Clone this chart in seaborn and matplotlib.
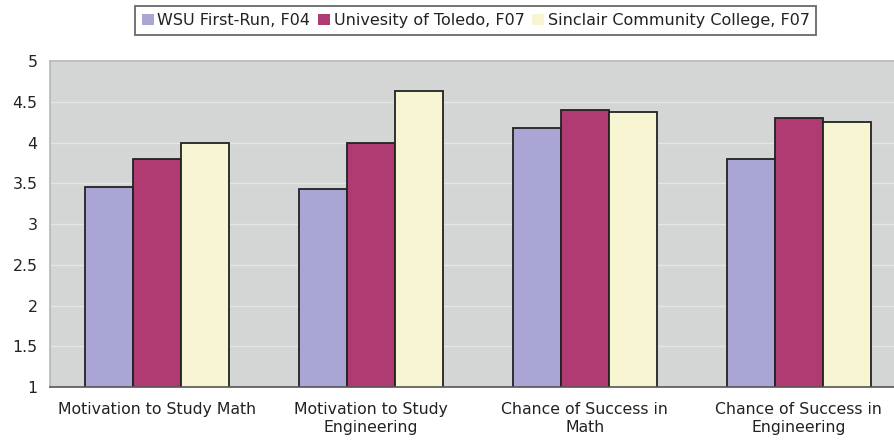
import matplotlib
matplotlib.use("Agg")
import matplotlib.pyplot as plt
import seaborn as sns
import pandas as pd

categories = ["Motivation to Study Math", "Motivation to Study\nEngineering",
              "Chance of Success in\nMath", "Chance of Success in\nEngineering"]
series = ["WSU First-Run, F04", "Univesity of Toledo, F07", "Sinclair Community College, F07"]
wsu = [3.46, 3.43, 4.18, 3.80]
toledo = [3.80, 4.00, 4.40, 4.30]
sinclair = [4.00, 4.63, 4.38, 4.25]
colors = ["#A9A6D6", "#B03A72", "#F8F5D2"]

rows = []
for name, vals in zip(series, [wsu, toledo, sinclair]):
    for c, v in zip(categories, vals):
        rows.append({"cat": c, "series": name, "val": v})
df = pd.DataFrame(rows)

sns.set_theme(style="white")
plt.rcParams['font.family'] = ['DejaVu Sans']
fig = plt.figure(figsize=(8.94, 4.43), dpi=100)
ax = fig.add_axes([0.056, 0.126, 0.95, 0.736])
ax.set_facecolor("#D4D6D6")

sns.barplot(data=df, x="cat", y="val", hue="series", palette=colors, ax=ax,
            width=0.675, edgecolor="#222222", linewidth=1.3, gap=0,
            saturation=1, legend=True)

ax.set_ylim(1, 5)
ax.set_xlim(-0.5, 3.47)
ax.set_yticks([1, 1.5, 2, 2.5, 3, 3.5, 4, 4.5, 5])
ax.set_yticklabels(["1", "1.5", "2", "2.5", "3", "3.5", "4", "4.5", "5"], fontsize=11.3, color="#222222")
ax.tick_params(axis="x", labelsize=11.3, colors="#222222", length=0, pad=10.5)
ax.tick_params(axis="y", length=0, pad=9)
for t in ax.get_xticklabels():
    t.set_linespacing(1.28)
ax.set_xlabel("")
ax.set_ylabel("")
ax.yaxis.grid(True, color="#E4E6E6", linewidth=1)
ax.set_axisbelow(True)
for s in ["top", "right", "left"]:
    ax.spines[s].set_visible(True)
    ax.spines[s].set_color("#B8B8B8")
ax.spines["bottom"].set_color("#555555")
ax.spines["bottom"].set_linewidth(1.2)

h, l = ax.get_legend_handles_labels()
ax.legend_.remove()
leg = fig.legend(h, l, loc="upper center", bbox_to_anchor=(0.532, 0.993), ncol=3,
                 fontsize=11.5, frameon=True, fancybox=False, edgecolor="#444444",
                 handlelength=0.75, handleheight=0.75, handletextpad=0.25, columnspacing=0.45,
                 borderpad=0.42, borderaxespad=0.2)
leg.get_frame().set_linewidth(1.3)
for p in leg.get_patches():
    p.set_edgecolor("none")
for t in leg.get_texts():
    t.set_color("#222222")

fig.savefig("out.png", dpi=100)
